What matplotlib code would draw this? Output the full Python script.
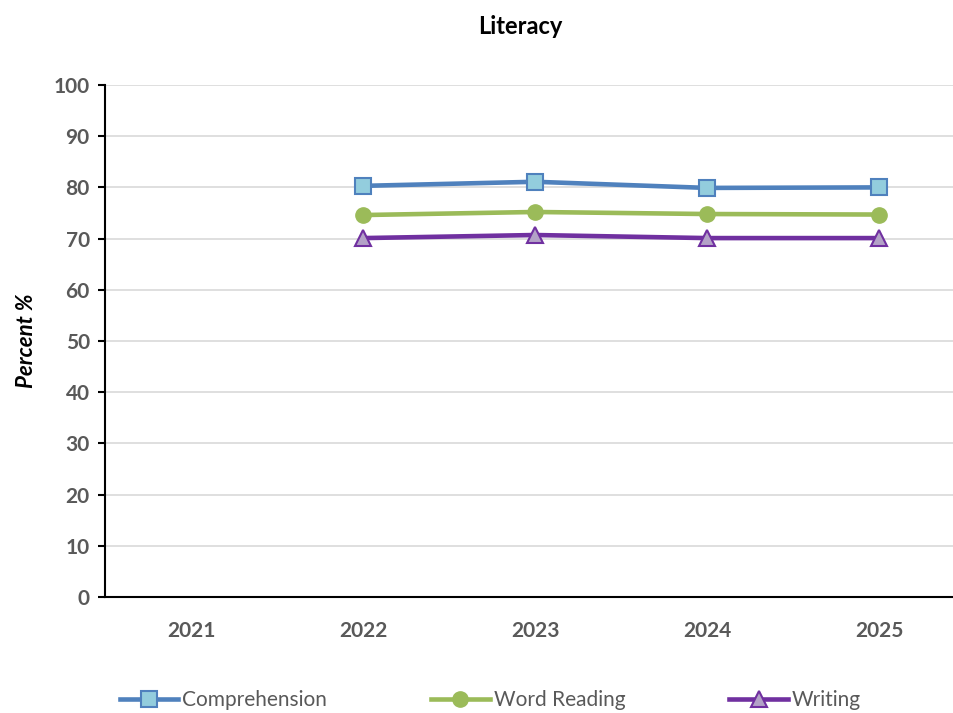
import numpy as np
import matplotlib.pyplot as plt

years = ['2021', '2022', '2023', '2024', '2025']
comprehension = [np.nan, 80.3, 81.1, 79.9, 80.0]
word_reading = [np.nan, 74.6, 75.2, 74.8, 74.7]
writing = [np.nan, 70.1, 70.7, 70.1, 70.1]

plt.rcParams['font.family'] = ['Lato', 'DejaVu Sans']

fig = plt.figure(figsize=(9.54, 7.13), dpi=100)
ax = fig.add_axes([105/954, 1-597/713, 860/954, (597-85)/713])

x = np.arange(len(years))
ax.plot(x, comprehension, '-s', color='#4f81bd', lw=3.3, ms=11,
        mfc='#93cddd', mec='#4f81bd', mew=1.5, label='Comprehension')
ax.plot(x, word_reading, '-o', color='#9bbb59', lw=3.3, ms=11,
        mfc='#9bbb59', mec='#9bbb59', label='Word Reading')
ax.plot(x, writing, '-^', color='#7030a0', lw=3.3, ms=12,
        mfc='#b3a2c7', mec='#7030a0', mew=1.5, label='Writing')

ax.set_xlim(-0.5, 4.5)
ax.set_ylim(0, 100)
ax.set_yticks(range(0, 101, 10))
ax.set_xticks(x)
ax.set_xticklabels(years)
ax.yaxis.grid(True, color='#d9d9d9', lw=1.2)
ax.set_axisbelow(True)
for s in ['top', 'right']:
    ax.spines[s].set_visible(False)
for s in ['left', 'bottom']:
    ax.spines[s].set_linewidth(1.5)
ax.tick_params(axis='x', length=0, pad=17)
ax.tick_params(axis='y', length=5, width=1.5, direction='out', pad=6)
for lab in ax.get_xticklabels() + ax.get_yticklabels():
    lab.set_fontsize(15)
    lab.set_fontweight('bold')
    lab.set_color('#595959')

ax.set_ylabel('Percent %', fontsize=16, fontweight='bold', style='italic', labelpad=12)
fig.text(0.545, 1-27/713, 'Literacy', ha='center', va='center',
         fontsize=17, fontweight='bold')

leg = fig.legend(loc='center', bbox_to_anchor=(0.514, 1-700/713), ncol=3,
                 frameon=False, fontsize=15, handlelength=2.8, handletextpad=0.2,
                 columnspacing=5.0, labelcolor='#595959')
plt.savefig('out.png')
